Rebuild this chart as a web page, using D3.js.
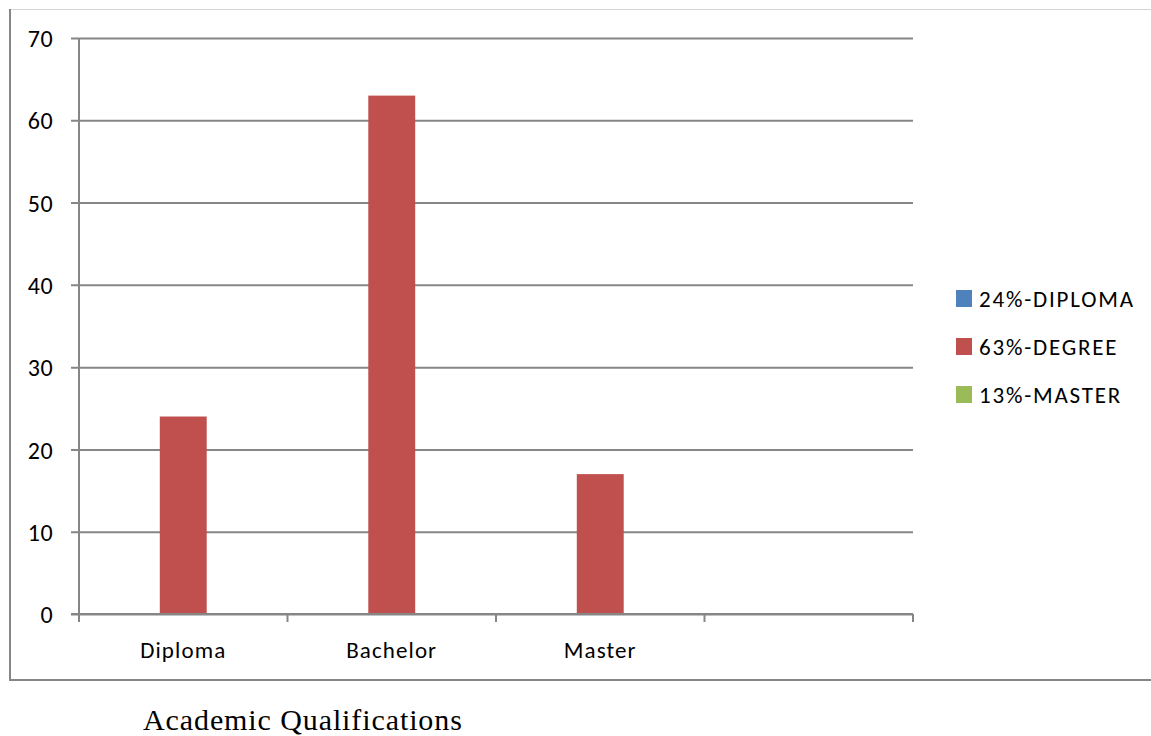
<!DOCTYPE html>
<html>
<head>
<meta charset="utf-8">
<script src="https://cdn.jsdelivr.net/npm/d3@7"></script>
<style>
  html, body { margin: 0; padding: 0; background: #ffffff; }
  svg { display: block; }
</style>
</head>
<body>
<svg id="chart" width="1151" height="736"></svg>
<script>
// Categories along the x axis (the fourth slot is left empty)
const categories = ["Diploma", "Bachelor", "Master", ""];
// Values plotted for each category
const values = [24, 63, 17, null];
// Y axis ticks
const yTicks = [0, 10, 20, 30, 40, 50, 60, 70];
// Legend entries and their swatch colours
const legendLabels = ["24%-DIPLOMA", "63%-DEGREE", "13%-MASTER"];
const legendColors = ["#4F81BD", "#C0504D", "#9BBB59"];
const barColor = "#C0504D";
const title = "Academic Qualifications";

const svg = d3.select("#chart");
const labelFont = "Carlito, Calibri, Lato, 'Open Sans', sans-serif";
const gridColor = "#868686";

// Outer chart frame
svg.append("line").attr("x1", 9).attr("x2", 1151).attr("y1", 9.5).attr("y2", 9.5)
  .attr("stroke", "#d4d4d4").attr("stroke-width", 1);
svg.append("line").attr("x1", 10).attr("x2", 10).attr("y1", 9).attr("y2", 681)
  .attr("stroke", gridColor).attr("stroke-width", 2);
svg.append("line").attr("x1", 9).attr("x2", 1151).attr("y1", 680).attr("y2", 680)
  .attr("stroke", gridColor).attr("stroke-width", 2);

const plot = { left: 79, right: 913, top: 38, bottom: 614 };

const x = d3.scaleBand().domain(categories).range([plot.left, plot.right]).padding(0);
const y = d3.scaleLinear().domain([0, 70]).range([plot.bottom, plot.top]);

// Horizontal gridlines with short ticks to the left of the axis
const yAxis = d3.axisLeft(y).tickValues(yTicks).tickSize(-(plot.right - plot.left)).tickSizeOuter(0);
const gy = svg.append("g").attr("transform", `translate(${plot.left},0)`).call(yAxis);
gy.select(".domain").remove();
gy.selectAll(".tick line").attr("stroke", gridColor).attr("stroke-width", 2)
  .attr("x1", -8);
gy.selectAll(".tick text").attr("font-family", labelFont).attr("font-size", 24)
  .attr("letter-spacing", 0.4)
  .attr("fill", "#000").attr("x", -26).attr("dy", "0.36em");

// Vertical axis line
svg.append("line").attr("x1", plot.left).attr("x2", plot.left)
  .attr("y1", plot.top).attr("y2", plot.bottom).attr("stroke", gridColor).attr("stroke-width", 2);

// Category axis: tick marks between categories, labels centred in each band
const xEdges = categories.map(c => x(c)).concat([plot.right]);
svg.append("g").selectAll("line").data(xEdges).join("line")
  .attr("x1", d => d).attr("x2", d => d)
  .attr("y1", plot.bottom).attr("y2", plot.bottom + 8)
  .attr("stroke", gridColor).attr("stroke-width", 2);

svg.append("g").selectAll("text").data(categories).join("text")
  .attr("x", d => x(d) + x.bandwidth() / 2)
  .attr("y", 658)
  .attr("text-anchor", "middle")
  .attr("font-family", labelFont).attr("font-size", 23)
  .attr("letter-spacing", 1.1)
  .attr("fill", "#000")
  .text(d => d);

// Bars
const barW = x.bandwidth() * 0.225;
svg.append("g").selectAll("rect")
  .data(categories.map((c, i) => ({ c, v: values[i] })).filter(d => d.v != null))
  .join("rect")
  .attr("x", d => x(d.c) + x.bandwidth() / 2 - barW / 2)
  .attr("y", d => y(d.v))
  .attr("width", barW)
  .attr("height", d => y(0) - y(d.v))
  .attr("fill", barColor);

// Re-draw the baseline over the bars
svg.append("line").attr("x1", plot.left - 8).attr("x2", plot.right)
  .attr("y1", y(0)).attr("y2", y(0)).attr("stroke", gridColor).attr("stroke-width", 2);

// Legend
const legend = svg.append("g").selectAll("g").data(legendLabels).join("g")
  .attr("transform", (d, i) => `translate(956, ${298 + i * 48})`);
legend.append("rect").attr("x", 0).attr("y", -8).attr("width", 16).attr("height", 17)
  .attr("fill", (d, i) => legendColors[i]);
legend.append("text").attr("x", 23).attr("y", 1).attr("dy", "0.36em")
  .attr("font-family", labelFont).attr("font-size", 23).attr("letter-spacing", 1.8)
  .attr("fill", "#000")
  .text(d => d);

// Axis title below the chart frame
svg.append("text").attr("x", 143).attr("y", 730)
  .attr("font-family", "'Liberation Serif', 'Times New Roman', serif")
  .attr("font-size", 30).attr("letter-spacing", 0.9).attr("fill", "#000")
  .text(title);
</script>
</body>
</html>
